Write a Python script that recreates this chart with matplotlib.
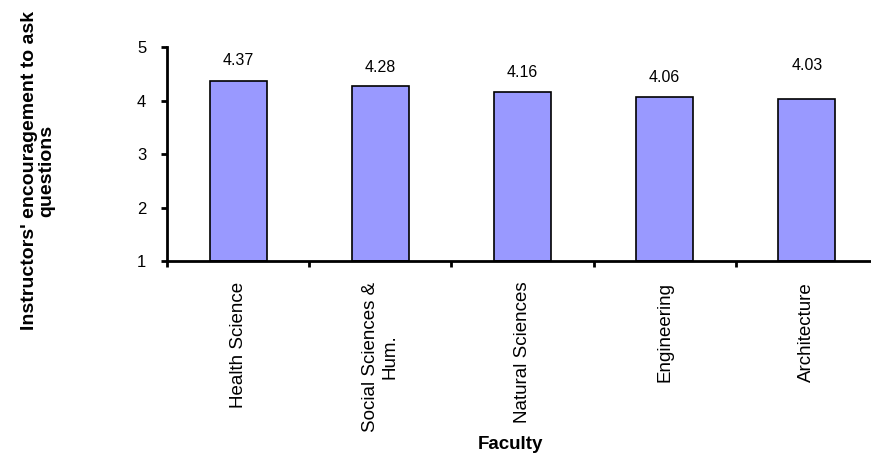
import matplotlib
matplotlib.use("Agg")
import matplotlib.pyplot as plt
import numpy as np

plt.rcParams['font.family'] = ['Liberation Sans', 'DejaVu Sans']

faculties = ["Health Science", "Social Sciences &\nHum.", "Natural Sciences",
             "Engineering", "Architecture"]
scores = [4.37, 4.28, 4.16, 4.06, 4.03]
label_lift_pts = [11.5, 10, 11, 11, 20.5]

W, H = 871, 458
fig = plt.figure(figsize=(W / 100, H / 100), dpi=100)
ax = fig.add_axes([167 / W, (H - 261) / H, (878 - 167) / W, (261 - 47) / H])

x = np.arange(len(faculties))
ax.bar(x, np.array(scores) - 1, bottom=1, width=0.4, color="#9999FF",
       edgecolor="black", linewidth=1.2, zorder=2)

for xi, v, lift in zip(x, scores, label_lift_pts):
    ax.annotate(f"{v:.2f}", (xi, v), xytext=(0, lift), textcoords="offset points",
                ha="center", va="baseline", fontsize=11.5)

ax.set_xlim(-0.5, len(faculties) - 0.5)
ax.set_ylim(1, 5)
ax.set_yticks([1, 2, 3, 4, 5])
ax.tick_params(axis='y', direction='out', length=4, width=2, labelsize=12, pad=11)

# category boundaries carry the tick marks, names sit at the bar centres
ax.set_xticks(np.arange(-0.5, len(faculties) + 0.5, 1.0))
ax.set_xticklabels([])
ax.tick_params(axis='x', which='major', direction='out', length=4, width=2)
ax.set_xticks(x, minor=True)
ax.set_xticklabels(faculties, minor=True, rotation=90, fontsize=13.5,
                   va='top', ha='center', multialignment='center')
ax.tick_params(axis='x', which='minor', length=0, pad=15)

for s in ("top", "right"):
    ax.spines[s].set_visible(False)
ax.spines["left"].set_linewidth(2)
ax.spines["bottom"].set_linewidth(2)

ax.set_xlabel("Faculty", fontsize=13.5, fontweight="bold", va="center")
ax.xaxis.set_label_coords((510 - 167) / (878 - 167), -(445 - 261) / (261 - 47),
                          transform=ax.transAxes)
ax.set_ylabel("Instructors' encouragement to ask\nquestions", fontsize=14,
              fontweight="bold", linespacing=1.05, va="center", ha="center")
ax.yaxis.set_label_coords((38 - 167) / (878 - 167), (261 - 171) / (261 - 47),
                          transform=ax.transAxes)

fig.savefig("out.png", dpi=100)
